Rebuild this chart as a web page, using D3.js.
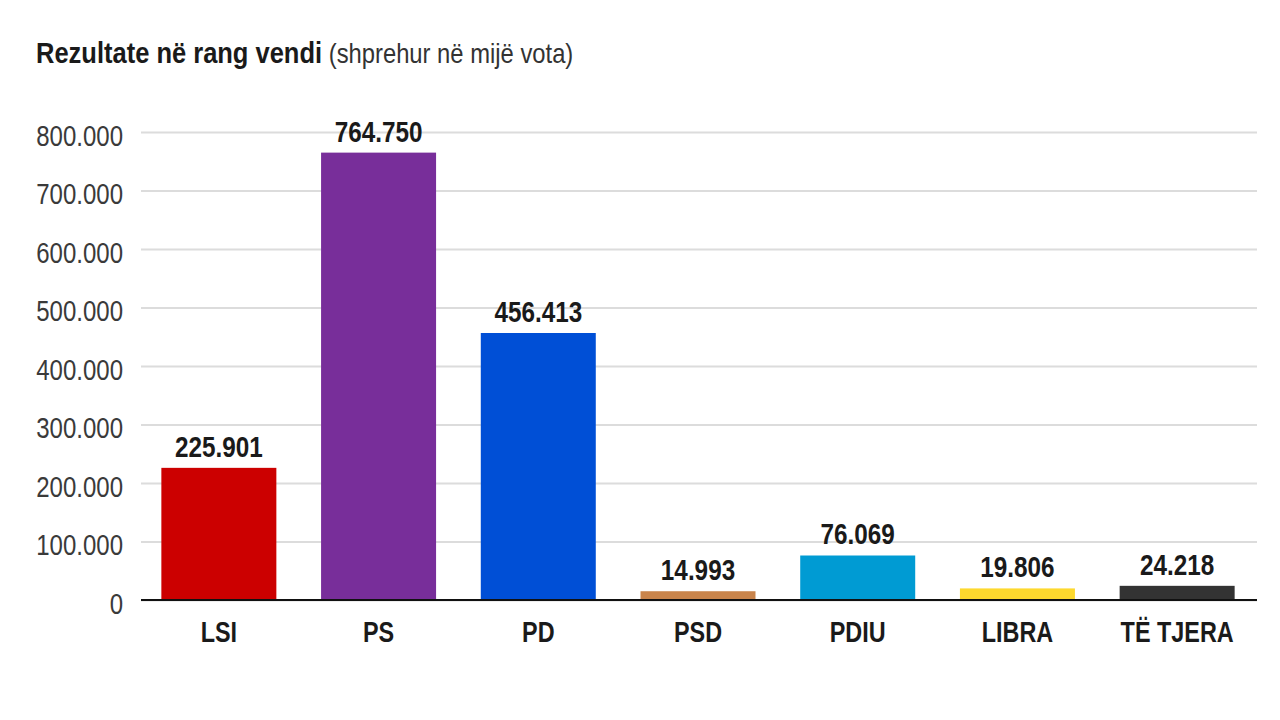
<!DOCTYPE html>
<html>
<head>
<meta charset="utf-8">
<script src="https://cdn.jsdelivr.net/npm/d3@7"></script>
<style>
  body { margin: 0; background: #fff; }
  text { font-family: "Liberation Sans", Arial, sans-serif; }
</style>
</head>
<body>
<div class="container"></div>
<script>
const parties = ["LSI", "PS", "PD", "PSD", "PDIU", "LIBRA", "TË TJERA"];
const votes = [225901, 764750, 456413, 14993, 76069, 19806, 24218];
const colors = ["#cc0000", "#782e9a", "#004fd6", "#c9844b", "#009bd3", "#fdd92e", "#333333"];
const yTicks = [0, 100000, 200000, 300000, 400000, 500000, 600000, 700000, 800000];

const margin = {top: 132, right: 23, bottom: 120, left: 139};
const width = 1280 - margin.left - margin.right;
const height = 720 - margin.top - margin.bottom;

// the original uses a condensed face, so squeeze the text horizontally
const squeezeTick = 0.8;
const squeezeValue = 0.81;
const squeezeCat = 0.78;
const squeezeTitle = 0.85;

// thousands with a dot, like the original
const fmt = d3.formatLocale({decimal: ",", thousands: ".", grouping: [3], currency: ["", ""]}).format(",d");

const svg = d3.select(".container")
                .append("svg")
                  .attr("width", 1280)
                  .attr("height", 720);

const title = svg.append("text")
                  .attr("transform", "translate(36,63) scale(" + squeezeTitle + ",1)")
                  .style("font-size", "30px")
                  .attr("fill", "#1a1a1a");
title.append("tspan").style("font-weight", "bold").text("Rezultate në rang vendi");
title.append("tspan").style("font-size", "28px").attr("fill", "#333").text(" (shprehur në mijë vota)");

const g = svg.append("g")
              .attr("transform", "translate(" + margin.left + "," + margin.top + ")");

const x = d3.scaleBand()
            .domain(parties)
            .range([0, width])
            .paddingInner(0.28)
            .paddingOuter(0.14);

const y = d3.scaleLinear()
            .domain([0, 800000])
            .range([height, 0]);

// grid lines + tick labels
g.append("g")
  .call(d3.axisLeft(y).tickValues(yTicks).tickSize(-width).tickFormat(d => fmt(d)))
  .call(ax => ax.select(".domain").remove())
  .call(ax => ax.selectAll(".tick line").attr("stroke", "#dcdcdc").attr("stroke-width", 2).attr("x1", 2))
  .call(ax => ax.selectAll(".tick text")
      .attr("transform", "scale(" + squeezeTick + ",1)")
      .attr("x", -16 / squeezeTick)
      .attr("dy", null)
      .attr("y", 13)
      .attr("fill", "#3a3a3a")
      .style("font-size", "30px")
      .style("font-family", "'Liberation Sans', sans-serif"));

g.selectAll(".bar")
  .data(votes)
  .enter()
  .append("rect")
    .classed("bar", true)
    .attr("x", (d, i) => x(parties[i]))
    .attr("y", d => y(d))
    .attr("width", x.bandwidth())
    .attr("height", d => height - y(d))
    .attr("fill", (d, i) => colors[i]);

g.selectAll(".value")
  .data(votes)
  .enter()
  .append("text")
    .classed("value", true)
    .attr("transform", (d, i) => "translate(" + (x(parties[i]) + x.bandwidth() / 2) + "," + (y(d) - 11) + ") scale(" + squeezeValue + ",1)")
    .attr("text-anchor", "middle")
    .style("font-size", "30px")
    .style("font-weight", "bold")
    .attr("fill", "#1a1a1a")
    .text(d => fmt(d));

// baseline
g.append("line")
  .attr("x1", 2)
  .attr("x2", width)
  .attr("y1", y(0))
  .attr("y2", y(0))
  .attr("stroke", "#111")
  .attr("stroke-width", 2);

// category labels
g.append("g")
  .attr("transform", "translate(0," + height + ")")
  .call(d3.axisBottom(x).tickSize(0).tickPadding(0))
  .call(ax => ax.select(".domain").remove())
  .call(ax => ax.selectAll(".tick text")
      .attr("transform", "scale(" + squeezeCat + ",1)")
      .attr("y", 42)
      .attr("dy", null)
      .attr("fill", "#1a1a1a")
      .style("font-size", "30px")
      .style("font-weight", "bold")
      .style("font-family", "'Liberation Sans', sans-serif"));
</script>
</body>
</html>
